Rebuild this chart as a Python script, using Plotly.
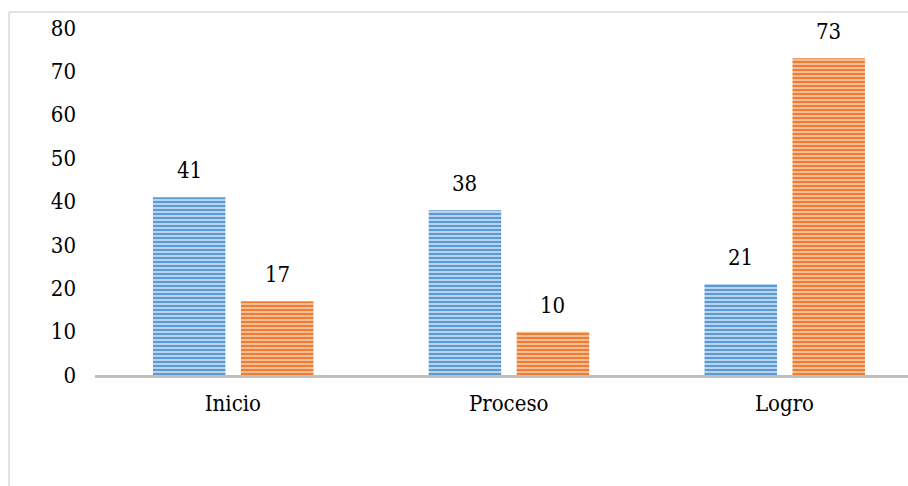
import plotly.graph_objects as go

# Categories and series values
categories = ["Inicio", "Proceso", "Logro"]
serie_azul = [41, 38, 21]
serie_naranja = [17, 10, 73]
y_ticks = [0, 10, 20, 30, 40, 50, 60, 70, 80]

FONT = "DejaVu Serif Condensed, DejaVu Serif, serif"
FSIZE = 22

W, H = 908, 486
ML, MR, MT, MB = 95, 0, 28, 111
plot_w = W - ML - MR
plot_h = H - MT - MB

bar_w = 0.263
off_blue = -0.290
off_orange = 0.029
x_idx = list(range(len(categories)))

fig = go.Figure()
fig.add_trace(go.Bar(
    x=categories, y=serie_azul, width=bar_w, offset=off_blue,
    marker=dict(color="#5B9BD5", line=dict(width=0),
                pattern=dict(shape="-", size=4, solidity=0.6,
                             fgcolor="#5B9BD5", bgcolor="#CFE1F3",
                             fgopacity=1, fillmode="replace")),
    showlegend=False,
))
fig.add_trace(go.Bar(
    x=categories, y=serie_naranja, width=bar_w, offset=off_orange,
    marker=dict(color="#ED7D31", line=dict(width=0),
                pattern=dict(shape="-", size=4, solidity=0.6,
                             fgcolor="#ED7D31", bgcolor="#F8CDB0",
                             fgopacity=1, fillmode="replace")),
    showlegend=False,
))

# Value labels above each bar
for i, v in zip(x_idx, serie_azul):
    fig.add_annotation(x=i + off_blue + bar_w / 2, y=v, text=str(v),
                       showarrow=False, yanchor="bottom", yshift=12,
                       font=dict(family=FONT, size=FSIZE, color="#000000"))
for i, v in zip(x_idx, serie_naranja):
    fig.add_annotation(x=i + off_orange + bar_w / 2, y=v, text=str(v),
                       showarrow=False, yanchor="bottom", yshift=12,
                       font=dict(family=FONT, size=FSIZE, color="#000000"))

# Light frame around the chart area
fig.add_shape(type="line", xref="paper", yref="paper",
              x0=(9 - ML) / plot_w, x1=(9 - ML) / plot_w,
              y0=-(H - MT - 12) / plot_h, y1=1 + (MT - 12) / plot_h,
              line=dict(color="#D9D9D9", width=1.5))
fig.add_shape(type="line", xref="paper", yref="paper",
              x0=(9 - ML) / plot_w, x1=1.2,
              y0=1 + (MT - 12) / plot_h, y1=1 + (MT - 12) / plot_h,
              line=dict(color="#D9D9D9", width=1.5))

fig.update_layout(
    width=W, height=H, autosize=False,
    margin=dict(l=ML, r=MR, t=MT, b=MB),
    paper_bgcolor="white", plot_bgcolor="white",
    barmode="overlay",
    font=dict(family=FONT, size=FSIZE, color="#000000"),
)
fig.update_xaxes(
    type="category", range=[-0.5, 2.448],
    showline=True, linecolor="#BFBFBF", linewidth=3,
    showgrid=False, zeroline=False, ticks="",
    ticklabelstandoff=7,
    tickfont=dict(family=FONT, size=FSIZE, color="#000000"),
)
fig.update_yaxes(
    range=[0, 80], tickvals=y_ticks,
    showline=False, showgrid=False, zeroline=False, ticks="",
    ticklabelstandoff=18,
    tickfont=dict(family=FONT, size=FSIZE, color="#000000"),
)

fig.write_html("out.html")
